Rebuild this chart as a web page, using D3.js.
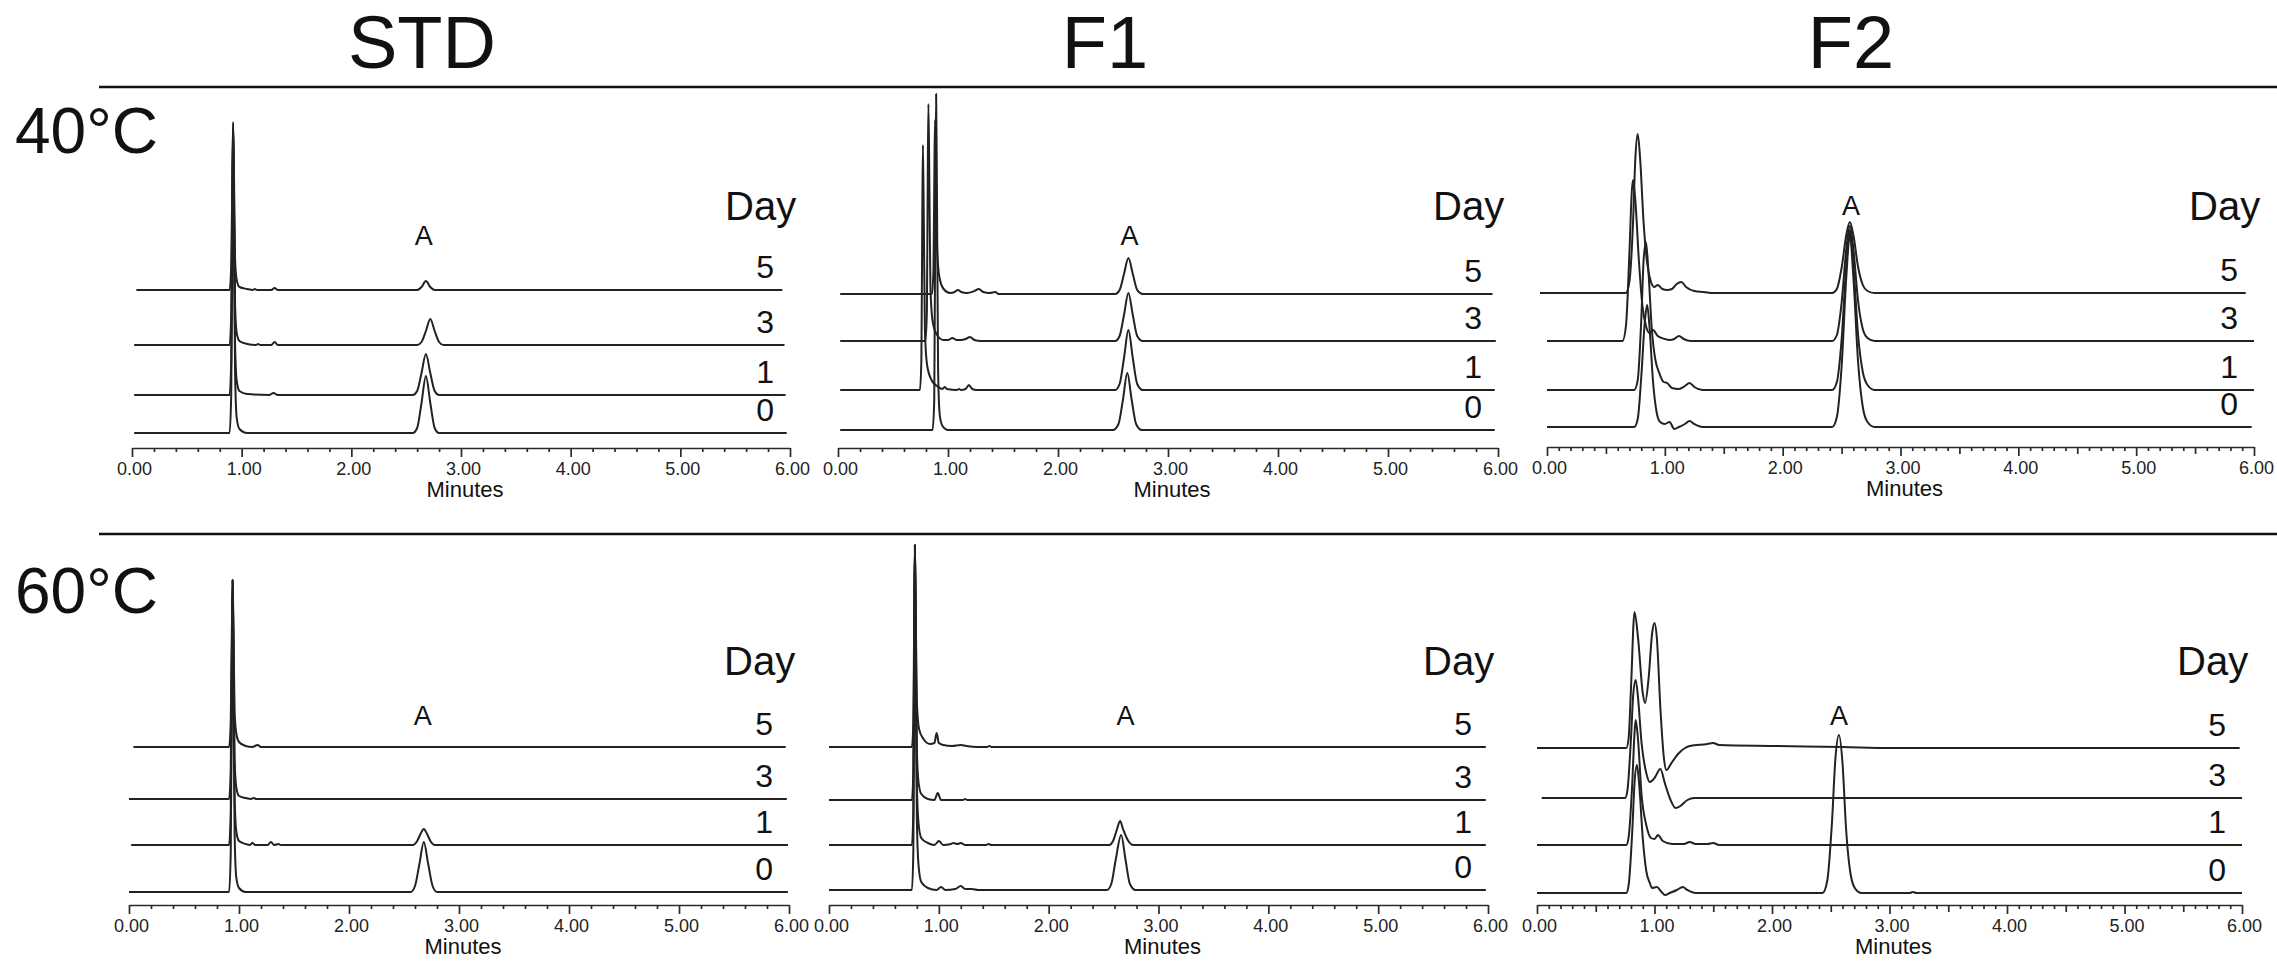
<!DOCTYPE html>
<html>
<head>
<meta charset="utf-8">
<script src="https://cdn.jsdelivr.net/npm/d3@7"></script>
<style>
  body { margin: 0; background: #fff; }
  svg text { font-family: "Liberation Sans", Arial, sans-serif; fill: #111; }
  .trace { fill: none; stroke: #222; stroke-width: 2; stroke-linejoin: round; }
  .xAxis path, .xAxis line { stroke: #2a2a2a; stroke-width: 1.7; }
  .xAxis text { font-size: 18px; fill: #222; }
</style>
</head>
<body>
<div id="chart"></div>
<script>
var svgWidth = 2277;
var svgHeight = 963;

// categories
var columns = ["STD", "F1", "F2"];
var temps = ["40°C", "60°C"];
var days = [0, 1, 3, 5];
var majorTicks = [0, 1, 2, 3, 4, 5, 6];
var peakName = "A";
// retention time (min) where the "A" label sits, per row / column
var aLabelTime = [[2.66, 2.65, 2.58], [2.67, 2.70, 2.57]];

// chromatograms: [minutes, signal]; order day 0, 1, 3, 5
var std40 = [
  [[0.02,0],[0.89,0],[0.905,40],[0.915,200],[0.922,300],[0.93,200],[0.94,60],[0.955,15],[0.98,4],[1.05,0],[2.56,0],[2.60,5],[2.64,30],[2.68,57],[2.72,30],[2.76,5],[2.80,0],[5.97,0]],
  [[0.02,0],[0.89,0],[0.905,35],[0.915,180],[0.922,268],[0.93,180],[0.94,50],[0.955,14],[0.98,4],[1.05,1],[1.25,0],[1.29,2],[1.33,0],[2.56,0],[2.60,4],[2.64,22],[2.68,41],[2.72,22],[2.76,4],[2.80,0],[5.96,0]],
  [[0.02,0],[0.89,0],[0.905,30],[0.915,150],[0.922,220],[0.93,150],[0.94,40],[0.955,12],[0.98,4],[1.05,1],[1.13,0],[1.15,1],[1.17,0],[1.27,0],[1.30,3],[1.33,0],[2.60,0],[2.64,3],[2.68,14],[2.72,26],[2.76,14],[2.80,3],[2.84,0],[5.95,0]],
  [[0.04,0],[0.89,0],[0.905,25],[0.915,115],[0.922,168],[0.93,115],[0.94,30],[0.955,10],[0.98,3],[1.05,1],[1.10,0],[1.12,1],[1.14,0],[1.27,0],[1.30,2],[1.33,0],[2.60,0],[2.64,3],[2.68,9],[2.72,3],[2.76,0],[5.93,0]]
];
var f140 = [
  [[0.02,0],[0.86,0],[0.875,30],[0.885,230],[0.892,336],[0.90,230],[0.91,60],[0.925,15],[0.95,4],[1.0,0],[2.50,0],[2.55,6],[2.59,30],[2.63,57],[2.67,30],[2.71,6],[2.76,0],[5.97,0]],
  [[0.02,0],[0.745,0],[0.758,30],[0.766,170],[0.772,245],[0.78,170],[0.79,60],[0.81,25],[0.85,10],[0.90,4],[0.95,1],[0.97,3],[0.99,1],[1.08,0],[1.10,1],[1.12,0],[1.16,1],[1.19,5],[1.22,1],[1.26,0],[2.52,0],[2.56,6],[2.60,32],[2.64,60],[2.68,32],[2.72,6],[2.77,0],[5.97,0]],
  [[0.02,0],[0.795,0],[0.808,30],[0.816,165],[0.822,237],[0.83,165],[0.84,55],[0.86,20],[0.90,6],[0.96,1],[1.00,1],[1.04,3],[1.08,1],[1.12,1],[1.16,2],[1.20,4],[1.24,1],[1.30,0],[2.52,0],[2.56,5],[2.60,26],[2.64,48],[2.68,26],[2.72,5],[2.77,0],[5.98,0]],
  [[0.02,0],[0.855,0],[0.868,25],[0.876,120],[0.882,174],[0.89,120],[0.90,50],[0.92,18],[0.96,5],[1.02,1],[1.06,2],[1.09,4],[1.12,2],[1.17,1],[1.24,3],[1.28,5],[1.32,2],[1.38,1],[1.43,2],[1.46,0],[2.52,0],[2.56,4],[2.60,20],[2.64,36],[2.68,20],[2.72,4],[2.77,0],[5.95,0]]
];
var f240 = [
  [[0.0,0],[0.74,0],[0.77,8],[0.80,50],[0.83,105],[0.85,122],[0.87,100],[0.90,45],[0.93,15],[0.96,5],[1.00,3],[1.04,5],[1.08,-2],[1.12,0],[1.17,3],[1.21,6],[1.25,3],[1.32,0],[2.42,0],[2.46,10],[2.50,60],[2.54,150],[2.57,192],[2.60,150],[2.64,65],[2.68,20],[2.72,5],[2.78,0],[5.98,0]],
  [[0.0,0],[0.74,0],[0.77,10],[0.80,70],[0.82,130],[0.84,148],[0.86,120],[0.89,60],[0.92,30],[0.95,18],[0.99,8],[1.02,7],[1.06,2],[1.12,1],[1.17,4],[1.21,7],[1.25,3],[1.32,0],[2.42,0],[2.46,8],[2.50,50],[2.54,125],[2.57,160],[2.60,125],[2.64,55],[2.68,18],[2.72,5],[2.78,0],[6.0,0]],
  [[0.0,0],[0.64,0],[0.67,15],[0.70,90],[0.72,150],[0.73,161],[0.75,140],[0.78,80],[0.81,35],[0.84,15],[0.87,8],[0.90,11],[0.94,5],[1.00,2],[1.04,1],[1.08,2],[1.12,5],[1.16,2],[1.22,0],[2.42,0],[2.46,6],[2.50,38],[2.54,92],[2.57,115],[2.60,92],[2.64,40],[2.68,12],[2.72,3],[2.78,0],[6.0,0]],
  [[-0.06,0],[0.67,0],[0.70,12],[0.73,70],[0.75,135],[0.77,159],[0.79,135],[0.82,70],[0.85,30],[0.88,12],[0.91,6],[0.94,8],[0.98,4],[1.02,3],[1.06,4],[1.10,9],[1.14,11],[1.18,6],[1.25,2],[1.33,1],[1.42,0],[2.42,0],[2.46,4],[2.50,25],[2.54,58],[2.57,71],[2.60,58],[2.64,26],[2.68,8],[2.72,2],[2.78,0],[5.93,0]]
];
var std60 = [
  [[0.0,0],[0.91,0],[0.925,40],[0.935,210],[0.942,312],[0.95,210],[0.96,60],[0.975,15],[1.0,4],[1.06,0],[2.56,0],[2.60,6],[2.64,28],[2.68,50],[2.72,28],[2.76,6],[2.80,0],[5.99,0]],
  [[0.02,0],[0.91,0],[0.925,35],[0.935,180],[0.942,265],[0.95,180],[0.96,50],[0.975,14],[1.0,4],[1.06,1],[1.10,0],[1.12,2],[1.15,0],[1.26,0],[1.29,3],[1.32,0],[1.36,1],[1.38,0],[2.58,0],[2.62,4],[2.65,11],[2.68,16],[2.71,11],[2.74,4],[2.78,0],[5.99,0]],
  [[0.0,0],[0.91,0],[0.925,30],[0.935,150],[0.942,219],[0.95,150],[0.96,40],[0.975,12],[1.0,3],[1.06,1],[1.11,0],[1.13,1],[1.16,0],[5.98,0]],
  [[0.04,0],[0.91,0],[0.925,25],[0.935,115],[0.942,167],[0.95,115],[0.96,35],[0.975,14],[1.0,5],[1.06,1],[1.12,0],[1.17,2],[1.20,0],[5.97,0]]
];
var f160 = [
  [[0.0,0],[0.755,0],[0.768,40],[0.776,230],[0.782,345],[0.79,230],[0.80,70],[0.815,25],[0.84,8],[0.90,2],[0.98,0],[1.02,3],[1.06,0],[1.15,1],[1.20,4],[1.24,1],[1.30,1],[1.36,0],[2.53,0],[2.57,6],[2.61,30],[2.66,55],[2.70,30],[2.74,6],[2.79,0],[5.98,0]],
  [[0.0,0],[0.755,0],[0.768,35],[0.776,200],[0.782,300],[0.79,200],[0.80,60],[0.815,22],[0.84,7],[0.90,2],[0.96,0],[1.00,4],[1.04,0],[1.11,1],[1.13,2],[1.17,1],[1.20,2],[1.24,0],[1.43,0],[1.45,1],[1.48,0],[2.55,0],[2.59,5],[2.62,15],[2.65,24],[2.68,15],[2.72,5],[2.77,0],[5.98,0]],
  [[0.0,0],[0.755,0],[0.768,30],[0.776,170],[0.782,255],[0.79,170],[0.80,50],[0.815,18],[0.84,6],[0.90,1],[0.96,0],[0.99,7],[1.02,0],[1.22,0],[1.24,1],[1.26,0],[5.98,0]],
  [[0.0,0],[0.755,0],[0.768,25],[0.776,135],[0.782,202],[0.79,135],[0.80,45],[0.82,18],[0.86,8],[0.92,3],[0.96,4],[0.98,14],[1.00,4],[1.04,2],[1.12,1],[1.20,2],[1.25,1],[1.35,0],[1.44,0],[1.46,1],[1.48,0],[5.98,0]]
];
var f260 = [
  [[0.0,0],[0.76,0],[0.78,8],[0.81,60],[0.83,110],[0.85,128],[0.87,108],[0.90,55],[0.93,22],[0.96,10],[0.98,5],[1.02,6],[1.06,1],[1.09,-2],[1.13,0],[1.19,3],[1.24,6],[1.28,3],[1.35,0],[2.43,0],[2.47,12],[2.51,70],[2.54,135],[2.57,158],[2.60,130],[2.63,65],[2.67,18],[2.71,4],[2.76,0],[3.17,0],[3.20,1],[3.23,0],[6.0,0]],
  [[0.0,0],[0.76,0],[0.78,8],[0.81,60],[0.83,112],[0.84,125],[0.86,105],[0.89,50],[0.93,20],[0.97,7],[1.00,6],[1.03,10],[1.07,4],[1.15,1],[1.25,1],[1.30,3],[1.35,1],[1.45,1],[1.50,2],[1.55,0],[6.0,0]],
  [[0.04,0],[0.75,0],[0.77,8],[0.80,60],[0.82,105],[0.84,118],[0.86,100],[0.89,55],[0.93,25],[0.96,16],[1.00,20],[1.05,29],[1.09,14],[1.13,0],[1.18,-10],[1.22,-8],[1.28,-2],[1.34,0],[6.0,0]],
  [[0.0,0],[0.76,0],[0.78,10],[0.80,60],[0.83,136],[0.86,110],[0.90,55],[0.92,45],[0.95,70],[0.98,115],[1.00,125],[1.02,110],[1.05,40],[1.08,-10],[1.10,-22],[1.15,-14],[1.20,-6],[1.26,0],[1.30,2],[1.45,4],[1.50,5],[1.55,3],[2.00,2],[2.60,1],[3.00,0],[5.98,0]]
];
var traceData = [[std40, f140, f240], [std60, f160, f260]];

// layout of the six panels (pixels)
var panels = [
  {row: 0, col: 0, x0: 132, x1: 790, axisY: 448, base: [433, 395, 345, 290], minor: 0.2, mid: 1},
  {row: 0, col: 1, x0: 838, x1: 1498, axisY: 448, base: [430, 390, 341, 294], minor: 0.2, mid: 1},
  {row: 0, col: 2, x0: 1547, x1: 2254, axisY: 447, base: [427, 390, 341, 293], minor: 0.1, mid: 0.5},
  {row: 1, col: 0, x0: 129, x1: 789, axisY: 905, base: [892, 845, 799, 747], minor: 0.2, mid: 1},
  {row: 1, col: 1, x0: 829, x1: 1488, axisY: 905, base: [890, 845, 800, 747], minor: 0.2, mid: 1},
  {row: 1, col: 2, x0: 1537, x1: 2242, axisY: 905, base: [893, 845, 798, 748], minor: 0.1, mid: 0.5}
];
var titleX = [422, 1105, 1851];
var rowLineY = [87, 534];
var rowLabelY = [153, 613];
var dayY = [220, 675];
var aY = [[245, 245, 215], [725, 725, 725]];

var svg = d3
.select("#chart")
.append("svg")
.attr("width", svgWidth)
.attr("height", svgHeight);

// column titles
svg.selectAll(".colTitle")
.data(columns)
.enter()
.append("text")
.attr("class", "colTitle")
.attr("x", function(d, i) { return titleX[i]; })
.attr("y", 68)
.attr("text-anchor", "middle")
.attr("font-size", 74)
.text(function(d) { return d; });

// row separators and temperature labels
rowLineY.forEach(function(y, r) {
  svg.append("line")
  .attr("x1", 99).attr("x2", svgWidth)
  .attr("y1", y).attr("y2", y)
  .attr("stroke", "#111")
  .attr("stroke-width", 2.5);

  svg.append("text")
  .attr("x", 15)
  .attr("y", rowLabelY[r])
  .attr("font-size", 64)
  .text(temps[r]);
});

panels.forEach(function(p) {
  var g = svg.append("g").attr("class", "panel");

  var xScale = d3.scaleLinear().domain([0, 6]).range([p.x0, p.x1]);

  // minor ticks
  var minorVals = d3.range(0, 6 + 1e-9, p.minor).filter(function(v) {
    return Math.abs(v / p.mid - Math.round(v / p.mid)) > 1e-6;
  });
  var midVals = d3.range(0, 6 + 1e-9, p.mid).filter(function(v) {
    return Math.abs(v - Math.round(v)) > 1e-6;
  });

  g.append("g")
  .attr("class", "xAxis")
  .attr("transform", "translate(0," + p.axisY + ")")
  .call(d3.axisBottom(xScale).tickValues(minorVals).tickSize(4).tickSizeOuter(0).tickFormat(""));

  if (midVals.length) {
    g.append("g")
    .attr("class", "xAxis")
    .attr("transform", "translate(0," + p.axisY + ")")
    .call(d3.axisBottom(xScale).tickValues(midVals).tickSize(7).tickSizeOuter(0).tickFormat(""))
    .select(".domain").remove();
  }

  var major = g.append("g")
  .attr("class", "xAxis")
  .attr("transform", "translate(0," + p.axisY + ")")
  .call(d3.axisBottom(xScale).tickValues(majorTicks).tickSize(9).tickSizeOuter(0).tickPadding(5).tickFormat(d3.format(".2f")));
  major.select(".domain").remove();
  major.selectAll("text").attr("dx", 2);

  g.append("text")
  .attr("x", (p.x0 + p.x1) / 2 + 4)
  .attr("y", p.axisY + 49)
  .attr("text-anchor", "middle")
  .attr("font-size", 22)
  .text("Minutes");

  // chromatogram traces, stacked by day
  var series = traceData[p.row][p.col];
  series.forEach(function(pts, i) {
    var yScale = d3.scaleLinear().domain([0, 100]).range([p.base[i], p.base[i] - 100]);
    var line = d3.line()
    .x(function(d) { return xScale(d[0]); })
    .y(function(d) { return yScale(d[1]); })
    .curve(d3.curveMonotoneX);

    g.append("path")
    .datum(pts)
    .attr("class", "trace")
    .attr("stroke-width", (p.row === 1 && p.col === 2 && i === 3) ? 2.8 : 2)
    .attr("d", line);

    g.append("text")
    .attr("x", p.x1 - 16)
    .attr("y", p.base[i] - 12)
    .attr("text-anchor", "end")
    .attr("font-size", 32)
    .text(days[i]);
  });

  g.append("text")
  .attr("x", p.x1 - 65)
  .attr("y", dayY[p.row])
  .attr("font-size", 40)
  .text("Day");

  g.append("text")
  .attr("x", xScale(aLabelTime[p.row][p.col]))
  .attr("y", aY[p.row][p.col])
  .attr("text-anchor", "middle")
  .attr("font-size", 27)
  .text(peakName);
});
</script>
</body>
</html>
